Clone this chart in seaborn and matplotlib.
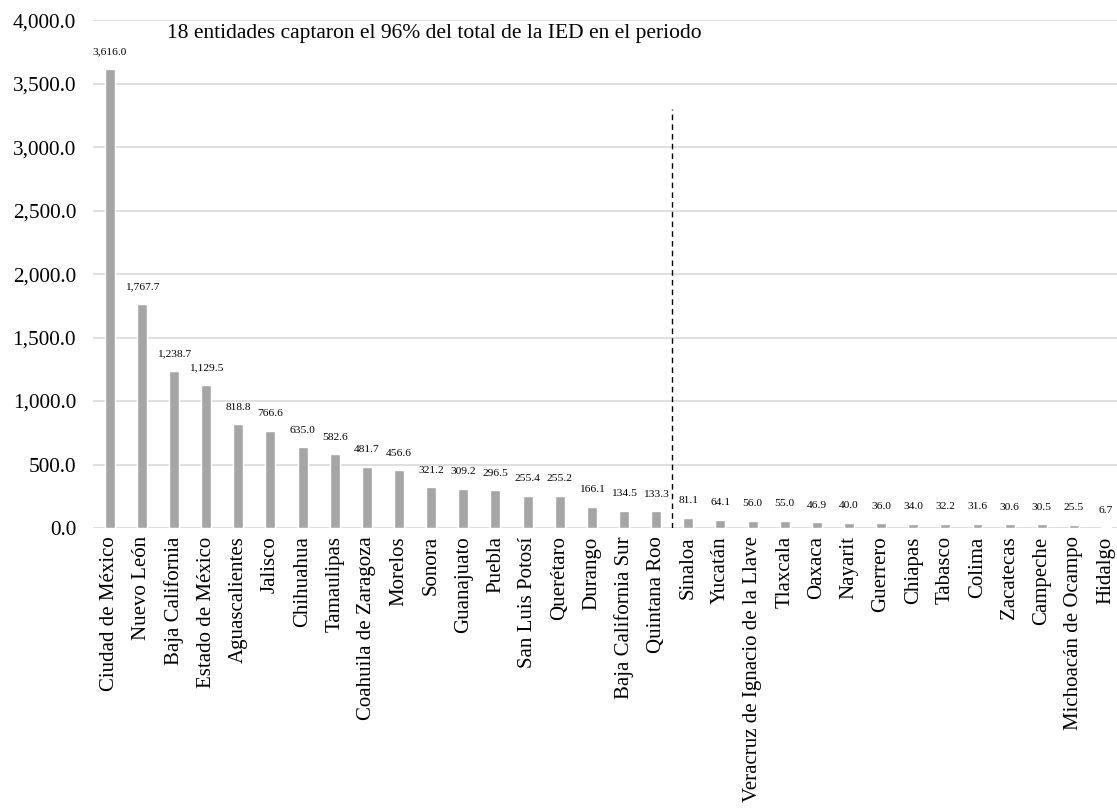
import matplotlib
matplotlib.use("Agg")
import matplotlib.pyplot as plt
import seaborn as sns
import pandas as pd
from matplotlib.ticker import FuncFormatter, MultipleLocator

estados = ["Ciudad de México", "Nuevo León", "Baja California", "Estado de México",
           "Aguascalientes", "Jalisco", "Chihuahua", "Tamaulipas", "Coahuila de Zaragoza",
           "Morelos", "Sonora", "Guanajuato", "Puebla", "San Luis Potosí", "Querétaro",
           "Durango", "Baja California Sur", "Quintana Roo", "Sinaloa", "Yucatán",
           "Veracruz de Ignacio de la Llave", "Tlaxcala", "Oaxaca", "Nayarit", "Guerrero",
           "Chiapas", "Tabasco", "Colima", "Zacatecas", "Campeche",
           "Michoacán de Ocampo", "Hidalgo"]
ied = [3616.0, 1767.7, 1238.7, 1129.5, 818.8, 766.6, 635.0, 582.6, 481.7, 456.6,
       321.2, 309.2, 296.5, 255.4, 255.2, 166.1, 134.5, 133.3, 81.1, 64.1,
       56.0, 55.0, 46.9, 40.0, 36.0, 34.0, 32.2, 31.6, 30.6, 30.5, 25.5, 6.7]
nota = "18 entidades captaron el 96% del total de la IED en el periodo"

df = pd.DataFrame({"estado": estados, "ied": ied})

sns.set_theme(style="white")
plt.rcParams["font.family"] = ["Liberation Serif", "DejaVu Serif"]

fig = plt.figure(figsize=(11.17, 8.11), dpi=100)
ax = fig.add_axes([0.083, 0.349, 0.917, 0.626])

sns.barplot(data=df, x="estado", y="ied", color="#A5A5A5", saturation=1,
            width=0.31, ax=ax, zorder=3)

ax.set_ylim(0, 4000)
ax.set_xlim(-0.53, 31.34)
ax.yaxis.set_major_locator(MultipleLocator(500))
ax.yaxis.set_major_formatter(FuncFormatter(lambda v, p: f"{v:,.1f}"))
ax.grid(axis="y", color="#D9D9D9", linewidth=1.2, zorder=0)
ax.grid(axis="x", visible=False)
for s in ax.spines.values():
    s.set_visible(False)
ax.set_xlabel("")
ax.set_ylabel("")
ax.tick_params(axis="y", labelsize=15.3, length=0, pad=12, colors="#000000")
ax.tick_params(axis="x", labelsize=15, length=0, pad=6, colors="#000000", rotation=90)

for i, v in enumerate(ied):
    ax.annotate(f"{v:,.1f}", (i, v), xytext=(0, 9), textcoords="offset points",
                ha="center", va="bottom", fontsize=8.2, color="#000000")

ax.plot([17.5, 17.5], [0, 3300], linestyle=(0, (4, 3)), color="black", linewidth=1, zorder=4)
ax.text(1.78, 3898, nota, fontsize=15.5, ha="left", va="center", color="#000000")

fig.savefig("out.png", dpi=100)
